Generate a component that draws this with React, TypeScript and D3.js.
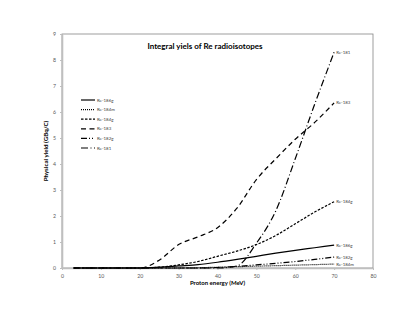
import React, { useRef, useEffect } from 'react';
import * as d3 from 'd3';

const energies = [3, 5, 10, 15, 20, 25, 30, 35, 40, 45, 50, 55, 60, 65, 70];

const re186g = [0, 0, 0, 0, 0, 0.03, 0.08, 0.13, 0.22, 0.33, 0.45, 0.57, 0.68, 0.78, 0.88];
const re184m = [0, 0, 0, 0, 0, 0, 0, 0.01, 0.03, 0.05, 0.07, 0.09, 0.11, 0.13, 0.15];
const re184g = [0, 0, 0, 0, 0, 0.03, 0.12, 0.25, 0.45, 0.65, 0.9, 1.25, 1.7, 2.15, 2.55];
const re183 = [0, 0, 0, 0, 0, 0.3, 0.9, 1.2, 1.55, 2.3, 3.4, 4.2, 4.95, 5.6, 6.35];
const re182g = [0, 0, 0, 0, 0, 0, 0, 0, 0.02, 0.06, 0.12, 0.18, 0.25, 0.33, 0.42];
const re181 = [0, 0, 0, 0, 0, 0, 0, 0, 0, 0.08, 0.95, 2.2, 4.2, 6.3, 8.3];

const seriesNames = ['Re-186g', 'Re-184m', 'Re-184g', 'Re-183', 'Re-182g', 'Re-181'];
const seriesValues = [re186g, re184m, re184g, re183, re182g, re181];
const dashes = ['none', '1,1', '2.5,1.5', '5,3.5', '6,2,1,2,1,2', '7,2.5,1,2.5'];

const xTicks = [0, 10, 20, 30, 40, 50, 60, 70, 80];
const yTicks = [0, 1, 2, 3, 4, 5, 6, 7, 8, 9];

const App = () => {
  const ref = useRef<SVGSVGElement>(null);

  useEffect(() => {
    const svg = d3.select(ref.current);
    svg.selectAll('*').remove();

    const font = 'Lato, "Open Sans", sans-serif';
    const x = d3.scaleLinear().domain([0, 80]).range([62, 373]);
    const y = d3.scaleLinear().domain([0, 9]).range([268, 34]);

    svg.append('rect')
      .attr('width', 415).attr('height', 321).attr('fill', '#fff');

    // plot border
    svg.append('rect')
      .attr('x', 62).attr('y', 34)
      .attr('width', 311).attr('height', 234)
      .attr('fill', 'none')
      .attr('stroke', '#868686')
      .attr('stroke-width', 0.8);

    const xAxis = svg.append('g')
      .attr('transform', 'translate(0,268)')
      .call(d3.axisBottom(x).tickValues(xTicks).tickSize(2).tickSizeOuter(0));
    xAxis.select('.domain').attr('stroke', '#bfbfbf').attr('stroke-width', 1.6);
    xAxis.selectAll('line').attr('stroke', '#bfbfbf');
    xAxis.selectAll('text')
      .attr('font-family', font).attr('font-size', 5.2).attr('fill', '#595959')
      .attr('y', 6);

    const yAxis = svg.append('g')
      .attr('transform', 'translate(62,0)')
      .call(d3.axisLeft(y).tickValues(yTicks).tickSize(2).tickSizeOuter(0));
    yAxis.select('.domain').attr('stroke', '#bfbfbf').attr('stroke-width', 1.6);
    yAxis.selectAll('line').attr('stroke', '#bfbfbf');
    yAxis.selectAll('text')
      .attr('font-family', font).attr('font-size', 5.2).attr('fill', '#595959')
      .attr('x', -6);

    const line = d3.line<number>()
      .x((_, i) => x(energies[i]))
      .y(d => y(d))
      .curve(d3.curveMonotoneX);

    seriesValues.forEach((vals, k) => {
      svg.append('path')
        .attr('d', line(vals))
        .attr('fill', 'none')
        .attr('stroke', '#000')
        .attr('stroke-width', 1.2)
        .attr('stroke-dasharray', dashes[k]);

      svg.append('text')
        .attr('x', x(energies[energies.length - 1]) + 2)
        .attr('y', y(vals[vals.length - 1]))
        .attr('dy', '0.35em')
        .attr('font-family', font)
        .attr('font-size', 4.4)
        .attr('fill', '#404040')
        .text(seriesNames[k]);
    });

    // legend
    const legend = svg.append('g');
    seriesNames.forEach((name, k) => {
      const ly = 100 + k * 9.6;
      legend.append('line')
        .attr('x1', 81).attr('x2', 95)
        .attr('y1', ly).attr('y2', ly)
        .attr('stroke', '#000')
        .attr('stroke-width', 1.2)
        .attr('stroke-dasharray', dashes[k]);
      legend.append('text')
        .attr('x', 97).attr('y', ly)
        .attr('dy', '0.35em')
        .attr('font-family', font)
        .attr('font-size', 4.4)
        .attr('fill', '#404040')
        .text(name);
    });

    svg.append('text')
      .attr('x', 205).attr('y', 46)
      .attr('dy', '0.35em')
      .attr('text-anchor', 'middle')
      .attr('font-family', font)
      .attr('font-weight', 'bold')
      .attr('font-size', 8)
      .text('Integral yiels of Re radioisotopes');

    svg.append('text')
      .attr('x', 217.5).attr('y', 283)
      .attr('dy', '0.35em')
      .attr('text-anchor', 'middle')
      .attr('font-family', font)
      .attr('font-weight', 'bold')
      .attr('font-size', 6)
      .text('Proton energy (MeV)');

    svg.append('text')
      .attr('transform', 'translate(46,151) rotate(-90)')
      .attr('dy', '0.35em')
      .attr('text-anchor', 'middle')
      .attr('font-family', font)
      .attr('font-weight', 'bold')
      .attr('font-size', 6.2)
      .text('Physical yield  (GBq/C)');
  }, []);

  return (
    <svg
      ref={ref}
      width={415}
      height={321}
      style={{ position: 'absolute', left: 0, top: 0 }}
    />
  );
};

export default App;
